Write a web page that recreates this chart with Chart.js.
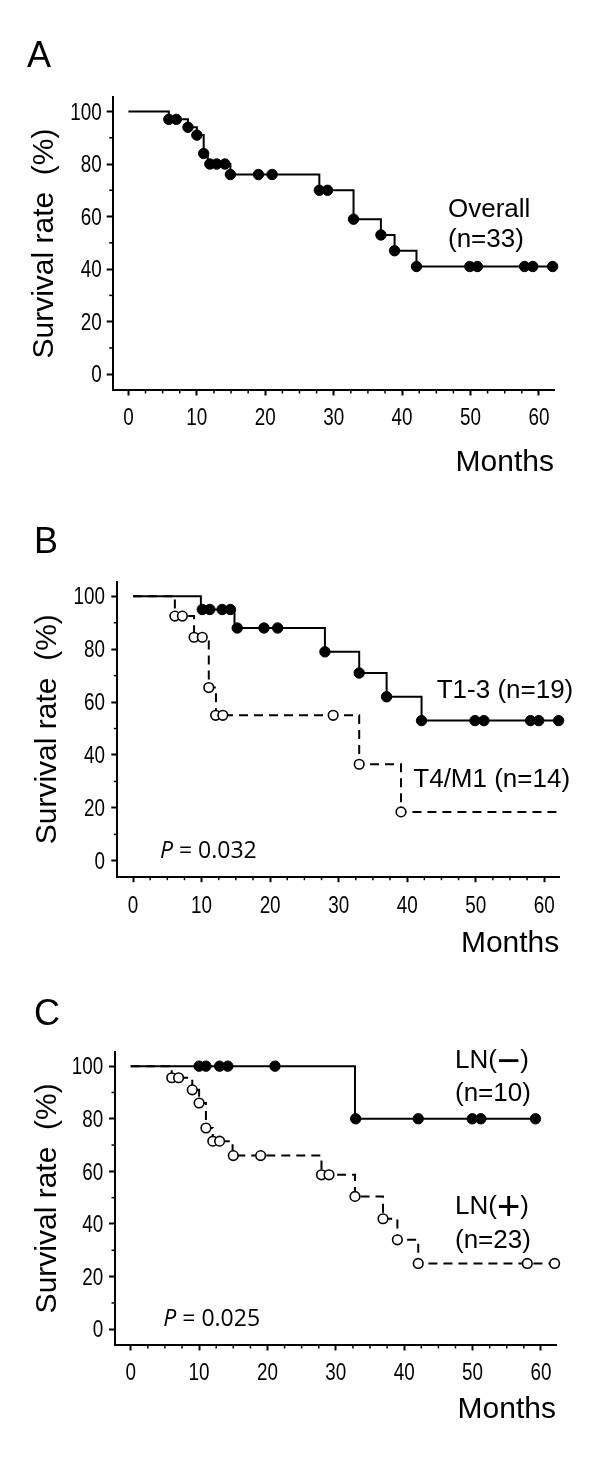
<!DOCTYPE html>
<html><head><meta charset="utf-8">
<script src="https://cdn.jsdelivr.net/npm/chart.js@4.4.1/dist/chart.umd.min.js"></script>
<style>
html,body{margin:0;padding:0;background:#fff;}
body{width:600px;height:1457px;position:relative;overflow:hidden;}
canvas{position:absolute;left:0;}
</style></head><body>
<canvas id="cA" width="600" height="500" style="top:0px"></canvas>
<canvas id="cB" width="600" height="490" style="top:480px"></canvas>
<canvas id="cC" width="600" height="497" style="top:960px"></canvas>
<script>
// ---------- data ----------
const xTicks = [0, 10, 20, 30, 40, 50, 60];
const yTicks = [0, 20, 40, 60, 80, 100];
const xMinor = [2.5, 5, 7.5, 12.5, 15, 17.5, 22.5, 25, 27.5, 32.5, 35, 37.5, 42.5, 45, 47.5, 52.5, 55, 57.5];
const yMinor = [10, 30, 50, 70, 90];

// Panel A: overall
const aStepT = [0, 5.9, 8.7, 10.0, 11.0, 11.6, 14.9, 27.9, 32.9, 36.9, 38.9, 42.1, 62.0];
const aStepS = [100, 97, 94, 91, 84, 80, 76, 70, 59, 53, 47, 41, 41];
const aMarkT = [5.9, 7.0, 8.7, 10.0, 11.0, 11.9, 12.9, 14.1, 14.9, 19.0, 21.0, 27.9, 29.1, 32.9, 36.9, 38.9, 42.1, 49.9, 51.0, 57.9, 59.1, 62.0];
const aMarkS = [97, 97, 94, 91, 84, 80, 80, 80, 76, 76, 76, 70, 70, 59, 53, 47, 41, 41, 41, 41, 41, 41];

// Panel B: T1-3
const bT13StepT = [0, 9.9, 14.8, 28.0, 33.0, 37.0, 42.1, 62.1];
const bT13StepS = [100, 95, 88, 79, 71, 62, 53, 53];
const bT13MarkT = [10.1, 11.2, 13.0, 14.2, 15.2, 19.1, 21.1, 28.0, 33.0, 37.0, 42.1, 49.9, 51.2, 58.0, 59.2, 62.1];
const bT13MarkS = [95, 95, 95, 95, 88, 88, 88, 79, 71, 62, 53, 53, 53, 53, 53, 53];
// Panel B: T4/M1
const bT4StepT = [0, 6.1, 8.9, 11.05, 12.1, 33.0, 39.1, 62.2];
const bT4StepS = [100, 92.5, 84.5, 65.5, 55, 36.5, 18.5, 18.5];
const bT4MarkT = [6.1, 7.2, 8.9, 10.1, 11.05, 12.05, 13.1, 29.2, 33.0, 39.1];
const bT4MarkS = [92.5, 92.5, 84.5, 84.5, 65.5, 55, 55, 55, 36.5, 18.5];

// Panel C: LN(-)
const cNegStepT = [0, 32.8, 59.2];
const cNegStepS = [100, 80, 80];
const cNegMarkT = [10.0, 11.0, 13.0, 14.2, 21.1, 32.9, 42.05, 49.95, 51.2, 59.2];
const cNegMarkS = [100, 100, 100, 100, 100, 80, 80, 80, 80, 80];
// Panel C: LN(+)
const cPosStepT = [0, 6.0, 9.0, 10.0, 11.0, 12.0, 14.9, 27.9, 32.8, 36.9, 39.0, 42.05, 62.0];
const cPosStepS = [100, 95.6, 91, 86, 76.5, 71.5, 66, 58.7, 50.5, 42, 34, 25, 25];
const cPosMarkT = [6.0, 7.0, 9.0, 10.0, 11.0, 12.0, 13.0, 15.0, 19.0, 27.9, 29.0, 32.8, 36.9, 39.0, 42.05, 58.0, 62.0];
const cPosMarkS = [95.6, 95.6, 91, 86, 76.5, 71.5, 71.5, 66, 66, 58.7, 58.7, 50.5, 42, 34, 25, 25, 25];

// texts
const panelLabels = ['A', 'B', 'C'];
const yTitle = 'Survival rate  (%)';
const xTitle = 'Months';
const aNames = ['Overall', '(n=33)'];
const bNames = ['T1-3 (n=19)', 'T4/M1 (n=14)'];
const cNames = ['LN(', '−', ')', '(n=10)', 'LN(', '+', ')', '(n=23)'];
const bP = '0.032';
const cP = '0.025';

// ---------- helpers ----------
const SANS = "'Liberation Sans', Arial, sans-serif";
const PFONT = "'Open Sans', 'Liberation Sans', sans-serif";
const TICKFONT = '23px ' + SANS;
const NARROW_SX = 0.82;
const pts = (T, S) => T.map((t, i) => ({x: t, y: S[i]}));

const annotPlugin = {
  id: 'annot',
  afterDraw(chart, args, opts) {
    const ctx = chart.ctx;
    const xs = chart.scales.x, ys = chart.scales.y;
    const ca = chart.chartArea;
    ctx.save();
    ctx.strokeStyle = '#000';
    ctx.lineWidth = 1.5;
    xMinor.forEach(v => {
      const px = xs.getPixelForValue(v);
      ctx.beginPath(); ctx.moveTo(px, ca.bottom); ctx.lineTo(px, ca.bottom + 3.5); ctx.stroke();
    });
    yMinor.forEach(v => {
      const py = ys.getPixelForValue(v);
      ctx.beginPath(); ctx.moveTo(ca.left, py); ctx.lineTo(ca.left - 3.5, py); ctx.stroke();
    });
    ctx.fillStyle = '#000';
    // tick labels (narrow face = regular face compressed horizontally)
    ctx.font = TICKFONT;
    ctx.textBaseline = 'alphabetic';
    ctx.textAlign = 'center';
    xTicks.forEach(v => {
      ctx.save();
      ctx.translate(xs.getPixelForValue(v), ca.bottom + opts.xLabBase);
      ctx.scale(NARROW_SX, 1);
      ctx.fillText(String(v), 0, 0);
      ctx.restore();
    });
    ctx.textAlign = 'right';
    yTicks.forEach(v => {
      ctx.save();
      ctx.translate(opts.yLabRight, ys.getPixelForValue(v) + 8.2);
      ctx.scale(NARROW_SX, 1);
      ctx.fillText(String(v), 0, 0);
      ctx.restore();
    });
    ctx.textAlign = 'left';
    (opts.items || []).forEach(it => {
      let x = it.x;
      it.parts.forEach(p => {
        ctx.font = p.font;
        ctx.fillText(p.t, x, it.y + (p.dy || 0));
        x += ctx.measureText(p.t).width;
      });
    });
    ctx.restore();
  }
};
Chart.register(annotPlugin);

function stepDs(T, S, dashed) {
  return {data: pts(T, S), showLine: true, stepped: 'before', borderColor: '#000', borderWidth: 2,
          borderDash: dashed ? [9, 6] : [], pointRadius: 0, pointHoverRadius: 0, clip: false, order: 2};
}
function markDs(T, S, open) {
  return {data: pts(T, S), showLine: false, pointRadius: open ? 4.8 : 5.2, pointHoverRadius: 0,
          pointBackgroundColor: open ? '#fff' : '#000', pointBorderColor: '#000',
          pointBorderWidth: open ? 1.6 : 1, clip: false, order: 1};
}

function makeChart(id, c) {
  const H = c.H, A = c.area;
  return new Chart(document.getElementById(id), {
    type: 'scatter',
    data: {datasets: c.datasets},
    options: {
      responsive: false, animation: false, devicePixelRatio: 1,
      events: [],
      layout: {padding: {left: 0, top: A.top, right: 600 - A.right, bottom: 0}},
      plugins: {legend: {display: false}, tooltip: {enabled: false},
                annot: {items: c.texts, xLabBase: c.xLabBase, yLabRight: c.yLabRight}},
      scales: {
        x: {
          type: 'linear', min: -2.3, max: 62.2,
          afterFit: s => { s.height = H - A.bottom; },
          afterBuildTicks: s => { s.ticks = xTicks.map(v => ({value: v})); },
          ticks: {display: false, autoSkip: false, maxRotation: 0},
          grid: {display: true, drawOnChartArea: false, drawTicks: true, tickLength: 5.5, tickWidth: 2, tickColor: '#000', color: '#000'},
          border: {display: true, color: '#000', width: 2},
          title: {display: true, text: xTitle, align: 'end', color: '#000', font: {family: SANS, size: 30, lineHeight: 1.2}, padding: {top: 0, bottom: c.xTitlePad}}
        },
        y: {
          type: 'linear', min: -6, max: 105.5,
          afterFit: s => { s.width = A.left; },
          afterBuildTicks: s => { s.ticks = yTicks.map(v => ({value: v})); },
          ticks: {display: false, autoSkip: false},
          grid: {display: true, drawOnChartArea: false, drawTicks: true, tickLength: 6, tickWidth: 2, tickColor: '#000', color: '#000'},
          border: {display: true, color: '#000', width: 2},
          title: {display: true, text: yTitle, color: '#000', font: {family: SANS, size: 30, lineHeight: 1.2}, padding: {top: c.yTitlePad, bottom: 0}}
        }
      }
    }
  });
}

const F26 = '26px ' + SANS;
const FSYM = '40px ' + SANS;
const FLET = '36px ' + SANS;
const FP = '23px ' + PFONT;
const FPI = 'italic 23px ' + PFONT;

makeChart('cA', {
  H: 500, area: {left: 112.7, top: 97, right: 554, bottom: 390},
  xLabBase: 35, yLabRight: 101.7, xTitlePad: 19.3, yTitlePad: 27,
  datasets: [markDs(aMarkT, aMarkS, false), stepDs(aStepT, aStepS, false)],
  texts: [
    {x: 27, y: 67, parts: [{t: panelLabels[0], font: FLET}]},
    {x: 448, y: 216.5, parts: [{t: aNames[0], font: F26}]},
    {x: 448, y: 247, parts: [{t: aNames[1], font: F26}]}
  ]
});

makeChart('cB', {
  H: 490, area: {left: 117.3, top: 101.7, right: 559.3, bottom: 396.7},
  xLabBase: 36.5, yLabRight: 105, xTitlePad: 8.6, yTitlePad: 29.5,
  datasets: [markDs(bT13MarkT, bT13MarkS, false), markDs(bT4MarkT, bT4MarkS, true),
             stepDs(bT13StepT, bT13StepS, false), stepDs(bT4StepT, bT4StepS, true)],
  texts: [
    {x: 34, y: 73, parts: [{t: panelLabels[1], font: FLET}]},
    {x: 436.7, y: 217.8, parts: [{t: bNames[0], font: F26}]},
    {x: 413.3, y: 306.8, parts: [{t: bNames[1], font: F26}]},
    {x: 160, y: 378.3, parts: [{t: 'P', font: FPI}, {t: ' = ' + bP, font: FP}]}
  ]
});

makeChart('cC', {
  H: 497, area: {left: 115, top: 91.7, right: 556, bottom: 385},
  xLabBase: 35, yLabRight: 103.3, xTitlePad: 29.6, yTitlePad: 30,
  datasets: [markDs(cNegMarkT, cNegMarkS, false), markDs(cPosMarkT, cPosMarkS, true),
             stepDs(cNegStepT, cNegStepS, false), stepDs(cPosStepT, cPosStepS, true)],
  texts: [
    {x: 34, y: 65, parts: [{t: panelLabels[2], font: FLET}]},
    {x: 455, y: 107.8, parts: [{t: cNames[0], font: F26}, {t: cNames[1], font: FSYM, dy: 6}, {t: cNames[2], font: F26}]},
    {x: 455, y: 140.5, parts: [{t: cNames[3], font: F26}]},
    {x: 455, y: 253.8, parts: [{t: cNames[4], font: F26}, {t: cNames[5], font: FSYM, dy: 6}, {t: cNames[6], font: F26}]},
    {x: 455, y: 287.8, parts: [{t: cNames[7], font: F26}]},
    {x: 163.3, y: 366, parts: [{t: 'P', font: FPI}, {t: ' = ' + cP, font: FP}]}
  ]
});
</script>
</body></html>
